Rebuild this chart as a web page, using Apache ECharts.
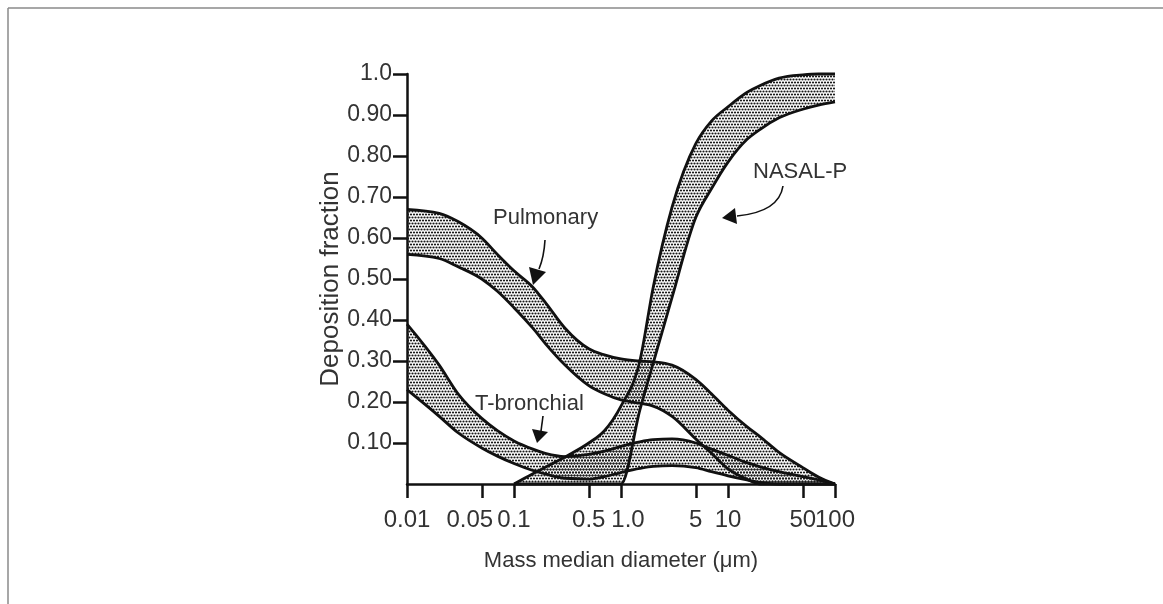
<!DOCTYPE html>
<html>
<head>
<meta charset="utf-8">
<script src="https://cdn.jsdelivr.net/npm/echarts@6/dist/echarts.min.js"></script>
<style>
html, body { margin: 0; padding: 0; background: #fff; }
#chartContainer { width: 1163px; height: 604px; }
</style>
</head>
<body>
<div id="chartContainer"></div>
<script>
// particle diameters (um) and deposition fractions
const diameters = [0.01, 0.02, 0.03, 0.05, 0.07, 0.1, 0.15, 0.2, 0.3, 0.5, 0.7, 1, 1.5, 2, 3, 5, 7, 10, 15, 20, 30, 50, 70, 100];
const pulmonaryUpper = [0.67, 0.66, 0.64, 0.60, 0.56, 0.52, 0.48, 0.44, 0.38, 0.33, 0.315, 0.305, 0.30, 0.298, 0.29, 0.255, 0.22, 0.18, 0.14, 0.115, 0.077, 0.04, 0.017, 0];
const pulmonaryLower = [0.56, 0.55, 0.53, 0.50, 0.47, 0.43, 0.38, 0.34, 0.29, 0.24, 0.22, 0.205, 0.197, 0.19, 0.165, 0.11, 0.075, 0.037, 0.012, 0, 0, 0, 0, 0];
const bronchialUpper = [0.39, 0.29, 0.22, 0.16, 0.13, 0.105, 0.085, 0.074, 0.067, 0.072, 0.08, 0.092, 0.103, 0.108, 0.11, 0.10, 0.085, 0.07, 0.052, 0.042, 0.03, 0.018, 0.01, 0];
const bronchialLower = [0.23, 0.165, 0.125, 0.088, 0.068, 0.05, 0.033, 0.024, 0.014, 0.012, 0.018, 0.028, 0.038, 0.043, 0.045, 0.04, 0.03, 0.02, 0.01, 0.004, 0, 0, 0, 0];

const nasalDiameters = [0.1, 0.15, 0.2, 0.3, 0.5, 0.7, 1, 1.5, 2, 3, 5, 7, 10, 15, 20, 30, 50, 70, 100];
const nasalUpper = [0, 0.025, 0.042, 0.066, 0.10, 0.13, 0.19, 0.30, 0.48, 0.675, 0.83, 0.885, 0.92, 0.955, 0.972, 0.99, 0.998, 1.0, 1.0];
const nasalLower = [0, 0, 0, 0, 0, 0, 0, 0.18, 0.295, 0.455, 0.65, 0.72, 0.785, 0.84, 0.865, 0.893, 0.914, 0.924, 0.932];

const xTicks = [0.01, 0.05, 0.1, 0.5, 1, 5, 10, 50, 100];
const xTickLabels = ['0.01', '0.05', '0.1', '0.5', '1.0', '5', '10', '50', '100'];
const yTicks = [0.1, 0.2, 0.3, 0.4, 0.5, 0.6, 0.7, 0.8, 0.9, 1.0];
const yTickLabels = ['0.10', '0.20', '0.30', '0.40', '0.50', '0.60', '0.70', '0.80', '0.90', '1.0'];

const FONT = '"Liberation Sans", Arial, Helvetica, sans-serif';
const INK = '#111';
const TEXT = '#333';

// dotted fill used inside every band
function makeStipple() {
    const c = document.createElement('canvas');
    c.width = 6; c.height = 6;
    const ctx = c.getContext('2d');
    ctx.fillStyle = '#1a1a1a';
    [[1.5, 1.5], [4.5, 1.5], [0, 4.5], [3, 4.5], [6, 4.5]].forEach(p => {
        ctx.beginPath();
        ctx.arc(p[0], p[1], 1.1, 0, Math.PI * 2);
        ctx.fill();
    });
    return c;
}

function lookupLabel(ticks, labels, v) {
    const i = ticks.findIndex(t => Math.abs(t - v) < 1e-6 * Math.max(1, t));
    return i >= 0 ? labels[i] : '';
}

// monotone cubic segments (same idea as d3 curveMonotoneX), in pixel space
function monotoneSegments(pts) {
    const n = pts.length, s = [], t = new Array(n).fill(0);
    for (let i = 0; i < n - 1; i++) {
        const h = pts[i + 1][0] - pts[i][0];
        s.push(h ? (pts[i + 1][1] - pts[i][1]) / h : 0);
    }
    for (let i = 1; i < n - 1; i++) {
        const h0 = pts[i][0] - pts[i - 1][0], h1 = pts[i + 1][0] - pts[i][0];
        const p = (s[i - 1] * h1 + s[i] * h0) / (h0 + h1);
        t[i] = (Math.sign(s[i - 1]) + Math.sign(s[i])) * Math.min(Math.abs(s[i - 1]), Math.abs(s[i]), 0.5 * Math.abs(p)) || 0;
    }
    t[0] = n > 2 ? (3 * s[0] - t[1]) / 2 : s[0];
    t[n - 1] = n > 2 ? (3 * s[n - 2] - t[n - 2]) / 2 : s[0];
    const segs = [];
    for (let i = 0; i < n - 1; i++) {
        const a = pts[i], b = pts[i + 1], dx = (b[0] - a[0]) / 3;
        segs.push([a, [a[0] + dx, a[1] + dx * t[i]], [b[0] - dx, b[1] - dx * t[i + 1]], b]);
    }
    return segs;
}

const f = v => v.toFixed(2);
function forwardPath(segs) {
    let d = 'M' + f(segs[0][0][0]) + ' ' + f(segs[0][0][1]);
    segs.forEach(g => { d += ' C' + [g[1], g[2], g[3]].map(p => f(p[0]) + ' ' + f(p[1])).join(' '); });
    return d;
}
function backwardPath(segs) {
    let d = '';
    for (let i = segs.length - 1; i >= 0; i--) {
        const g = segs[i];
        d += ' C' + [g[2], g[1], g[0]].map(p => f(p[0]) + ' ' + f(p[1])).join(' ');
    }
    return d;
}

function bandSeries(name, xs, lower, upper, stipple) {
    return {
        name: name,
        type: 'custom',
        coordinateSystem: 'cartesian2d',
        data: xs.map((x, i) => [x, lower[i], upper[i]]),
        encode: { x: 0, y: [1, 2] },
        clip: false,
        silent: true,
        renderItem: function(params, api) {
            if (params.dataIndex !== 0) return null;
            const up = monotoneSegments(xs.map((x, i) => api.coord([x, upper[i]])));
            const lo = monotoneSegments(xs.map((x, i) => api.coord([x, lower[i]])));
            const last = lo[lo.length - 1][3];
            const upPath = forwardPath(up);
            const fillPath = upPath + ' L' + f(last[0]) + ' ' + f(last[1]) + backwardPath(lo) + ' Z';
            const stroke = { fill: null, stroke: INK, lineWidth: 2.8, lineJoin: 'round' };
            return {
                type: 'group',
                children: [
                    { type: 'path', z2: 0, shape: { pathData: fillPath }, style: { fill: { image: stipple, repeat: 'repeat' }, stroke: null } },
                    { type: 'path', z2: 10, shape: { pathData: upPath }, style: stroke },
                    { type: 'path', z2: 10, shape: { pathData: forwardPath(lo) }, style: stroke }
                ]
            };
        }
    };
}

document.addEventListener('DOMContentLoaded', function() {
    const chart = echarts.init(document.getElementById('chartContainer'));
    const stipple = makeStipple();

    const note = (text, x, y) => ({
        type: 'text', x: x, y: y, z: 20,
        style: { text: text, fill: TEXT, font: '22px ' + FONT, verticalAlign: 'middle' }
    });
    const arrowStroke = { stroke: INK, lineWidth: 1.6, fill: null };
    const tickText = { fontSize: 24, color: TEXT, fontFamily: FONT };
    const lastTick = xTicks.length - 1;

    const logAxis = {
        type: 'log',
        logBase: 10,
        min: 0.01,
        max: 100.0001,
        position: 'bottom',
        splitLine: { show: false },
        minorTick: { show: false }
    };

    chart.setOption({
        animation: false,
        backgroundColor: '#fff',
        grid: { left: 407, right: 328, top: 74, bottom: 120 },
        xAxis: [Object.assign({}, logAxis, {
            name: 'Mass median diameter (\u03bcm)',
            nameLocation: 'middle',
            nameGap: 66,
            nameTextStyle: { fontSize: 22, color: TEXT, fontFamily: FONT },
            axisLine: { show: true, lineStyle: { color: INK, width: 2.5 } },
            axisTick: { show: true, length: 14, lineStyle: { color: INK, width: 2.5 }, customValues: xTicks },
            axisLabel: Object.assign({
                customValues: xTicks.slice(0, lastTick),
                showMinLabel: true,
                hideOverlap: false,
                margin: 24,
                formatter: v => {
                    const s = lookupLabel(xTicks, xTickLabels, v);
                    if (s === '0.05') return '{l|' + s + '}';
                    if (s === '1.0') return '{r|' + s + '}';
                    return s;
                },
                rich: {
                    l: Object.assign({ padding: [0, 24, 0, 0] }, tickText),
                    r: Object.assign({ padding: [0, 0, 0, 14] }, tickText)
                }
            }, tickText)
        }), Object.assign({}, logAxis, {
            // carries only the last label so it is not dropped next to "50"
            axisLine: { show: false },
            axisTick: { show: false },
            axisLabel: Object.assign({
                customValues: xTicks.slice(lastTick),
                showMaxLabel: true,
                margin: 24,
                formatter: v => lookupLabel(xTicks, xTickLabels, v)
            }, tickText)
        })],
        yAxis: {
            type: 'value',
            min: 0,
            max: 1,
            name: 'Deposition fraction',
            nameLocation: 'middle',
            nameGap: 61,
            nameTextStyle: { fontSize: 26, color: TEXT, fontFamily: FONT },
            axisLine: { show: true, lineStyle: { color: INK, width: 2.5 } },
            axisTick: { show: true, length: 14, lineStyle: { color: INK, width: 2.5 }, customValues: yTicks },
            axisLabel: {
                customValues: yTicks,
                margin: 15,
                fontSize: 23,
                color: TEXT,
                fontFamily: FONT,
                formatter: v => lookupLabel(yTicks, yTickLabels, v)
            },
            splitLine: { show: false }
        },
        series: [
            bandSeries('Pulmonary', diameters, pulmonaryLower, pulmonaryUpper, stipple),
            bandSeries('T-bronchial', diameters, bronchialLower, bronchialUpper, stipple),
            bandSeries('NASAL-P', nasalDiameters, nasalLower, nasalUpper, stipple)
        ],
        graphic: [
            // page frame
            { type: 'line', shape: { x1: 8, y1: 8, x2: 1163, y2: 8 }, style: { stroke: '#8a8a8a', lineWidth: 1.5 } },
            { type: 'line', shape: { x1: 8, y1: 8, x2: 8, y2: 604 }, style: { stroke: '#8a8a8a', lineWidth: 1.5 } },
            // annotations
            note('Pulmonary', 493, 218),
            note('T-bronchial', 475, 404),
            note('NASAL-P', 753, 172),
            { type: 'bezierCurve', z: 20, shape: { x1: 545, y1: 240, cpx1: 544, cpy1: 257, x2: 539, y2: 269 }, style: arrowStroke },
            { type: 'polygon', z: 20, shape: { points: [[529, 267], [546, 272], [533, 285]] }, style: { fill: INK } },
            { type: 'line', z: 20, shape: { x1: 543, y1: 416, x2: 541, y2: 431 }, style: arrowStroke },
            { type: 'polygon', z: 20, shape: { points: [[532, 429], [548, 432], [537, 443]] }, style: { fill: INK } },
            { type: 'bezierCurve', z: 20, shape: { x1: 783, y1: 186, cpx1: 779, cpy1: 212, x2: 737, y2: 216 }, style: arrowStroke },
            { type: 'polygon', z: 20, shape: { points: [[735, 208], [737, 224], [722, 218]] }, style: { fill: INK } }
        ]
    });

    window.addEventListener('resize', () => chart.resize());
});
</script>
</body>
</html>
